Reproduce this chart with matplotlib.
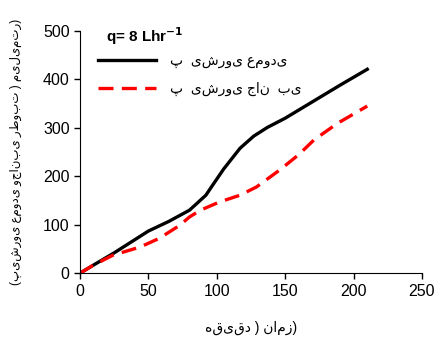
import numpy as np
import matplotlib
matplotlib.use("Agg")
import matplotlib.pyplot as plt

# values
time_vertical = [0, 10, 25, 50, 65, 80, 92, 97, 105, 110, 117, 127, 137, 150, 170, 190, 210]
advance_vertical = [0, 17, 42, 87, 107, 130, 161, 182, 215, 233, 258, 283, 301, 320, 354, 388, 421]

time_lateral = [0, 10, 24, 44, 58, 73, 80, 88, 102, 117, 129, 146, 160, 171, 188, 210]
advance_lateral = [0, 17, 37, 54, 72, 99, 116, 130, 147, 161, 178, 213, 245, 275, 309, 345]

label_vertical = "پ  یشروی عمودی"
label_lateral = "پ  یشروی جان  بی"
x_label = "هقیقد ) نامز)"
y_label = "(پیشروی عمودی وجانبی رطوبت ) میلیمتر)"
flow_label = "q= 8 Lhr$^{\\mathbf{-1}}$"

x_ticks = [0, 50, 100, 150, 200, 250]
y_ticks = [0, 100, 200, 300, 400, 500]

plt.rcParams["font.family"] = ["Liberation Sans", "DejaVu Sans"]

fig = plt.figure(figsize=(4.4, 3.41), dpi=100)
ax = fig.add_axes([0.182, 0.199, 0.777, 0.71])

ax.plot(time_vertical, advance_vertical, color="black", lw=2.4,
        label=label_vertical, solid_joinstyle="round")
ax.plot(time_lateral, advance_lateral, color="red", lw=2.4,
        dashes=(4.5, 2.5), label=label_lateral)

ax.set_xlim(0, 250)
ax.set_ylim(0, 500)
ax.set_xticks(x_ticks)
ax.set_yticks(y_ticks)
ax.tick_params(labelsize=11.5, direction="out", length=4, width=1)
ax.spines["top"].set_visible(False)
ax.spines["right"].set_visible(False)

ax.set_xlabel(x_label, fontsize=10, labelpad=16)
ax.set_ylabel(y_label, fontsize=8.5, labelpad=15)

ax.text(0.075, 1.025, flow_label, transform=ax.transAxes, fontsize=11,
        fontweight="bold", va="top", ha="left")

ax.legend(loc="upper left", bbox_to_anchor=(0.015, 0.958), frameon=False,
          fontsize=10, handlelength=4.2, handletextpad=1.0, labelspacing=1.0)

fig.savefig("out.png", dpi=100)
